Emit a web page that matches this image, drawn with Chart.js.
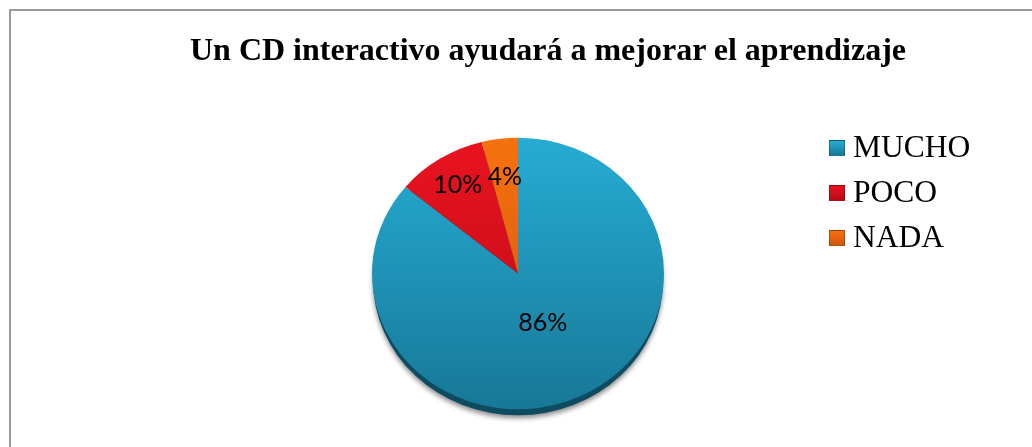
<!DOCTYPE html>
<html lang="es">
<head>
<meta charset="UTF-8">
<title>Un CD interactivo ayudará a mejorar el aprendizaje</title>
<style>
    body { margin: 0; background: #fff; overflow: hidden; }
    #wrap { position: relative; width: 1032px; height: 447px; }
    #frame {
        position: absolute; left: 9px; top: 9px; width: 1100px; height: 500px;
        border-left: 2px solid #9b9b9b; border-top: 2px solid #9b9b9b;
    }
    #chart { position: absolute; left: 0; top: 0; }
    #title {
        position: absolute; left: 548px; top: 33px; transform: translateX(-50%);
        white-space: nowrap; color: #000;
        font: bold 32px/32px "Liberation Serif", "Times New Roman", serif;
    }
    #legend { position: absolute; left: 829px; top: 124px; }
    .item { position: relative; height: 45px; }
    .box {
        position: absolute; left: 0; top: 16px; width: 16px; height: 16px;
        box-sizing: border-box; border: 1px solid rgba(0,0,0,0.25);
    }
    .text {
        position: absolute; left: 24px; top: 0; white-space: nowrap; color: #000;
        font: 31.5px/45px "Liberation Serif", "Times New Roman", serif;
    }
</style>
</head>
<body>
<div id="wrap">
    <div id="frame"></div>
    <canvas id="chart" width="1032" height="447"></canvas>
    <div id="title">Un CD interactivo ayudará a mejorar el aprendizaje</div>
    <div id="legend"></div>
</div>

<script src="https://cdn.jsdelivr.net/npm/chart.js"></script>
<script>
    // survey answers (%)
    const categories = ['MUCHO', 'POCO', 'NADA'];
    const percentages = [86, 10, 4];

    // slice shading, light at the top and darker towards the bottom
    const topColors = ['#26acd4', '#ea1320', '#f6710f'];
    const bottomColors = ['#177897', '#b80b15', '#d0560a'];
    // how far out along each slice the percentage label sits
    const labelRadius = [0.4, 0.77, 0.72];

    const squash = 0.93; // slight tilt of the pie

    function sliceFill(c) {
        const chart = c.chart;
        const a = chart.chartArea;
        if (!a) return topColors[c.dataIndex];
        const cy = (a.top + a.bottom) / 2;
        const r = chart.options.radius;
        const g = chart.ctx.createLinearGradient(0, cy - r, 0, cy + r);
        g.addColorStop(0, topColors[c.dataIndex]);
        g.addColorStop(1, bottomColors[c.dataIndex]);
        return g;
    }

    const tiltPie = {
        id: 'tiltPie',
        beforeDatasetsDraw(chart) {
            const ctx = chart.ctx;
            const arc = chart.getDatasetMeta(0).data[0];
            const cx = arc.x, cy = arc.y, r = arc.outerRadius;
            ctx.save();
            // dark edge + soft shadow under the pie
            ctx.save();
            ctx.shadowColor = 'rgba(0,0,0,0.45)';
            ctx.shadowBlur = 5;
            ctx.shadowOffsetY = 3;
            ctx.fillStyle = '#0d4b61';
            ctx.beginPath();
            ctx.ellipse(cx, cy + 7, r - 1, r * squash - 1, 0, 0, Math.PI * 2);
            ctx.fill();
            ctx.restore();
            ctx.translate(cx, cy);
            ctx.scale(1, squash);
            ctx.translate(-cx, -cy);
        },
        afterDatasetsDraw(chart) {
            const ctx = chart.ctx;
            ctx.restore();
            const meta = chart.getDatasetMeta(0);
            ctx.save();
            ctx.fillStyle = '#000';
            ctx.font = '25px Lato, "Open Sans", sans-serif';
            ctx.textAlign = 'center';
            ctx.textBaseline = 'middle';
            meta.data.forEach((arc, i) => {
                const mid = (arc.startAngle + arc.endAngle) / 2;
                const d = arc.outerRadius * labelRadius[i];
                const x = arc.x + d * Math.cos(mid);
                const y = arc.y + d * Math.sin(mid) * squash;
                ctx.fillText(percentages[i] + '%', x, y);
            });
            ctx.restore();
        }
    };

    new Chart(document.getElementById('chart'), {
        type: 'pie',
        data: {
            labels: categories,
            datasets: [{
                data: percentages,
                backgroundColor: sliceFill,
                borderWidth: 0,
                hoverOffset: 0,
                clip: false
            }]
        },
        options: {
            responsive: false,
            animation: false,
            events: [],
            radius: 146,
            layout: { padding: { left: 4, right: 0, top: 127, bottom: 27 } },
            plugins: {
                legend: { display: false },
                tooltip: { enabled: false }
            }
        },
        plugins: [tiltPie]
    });

    // legend on the right
    const legend = document.getElementById('legend');
    categories.forEach((name, i) => {
        const row = document.createElement('div');
        row.className = 'item';
        const box = document.createElement('div');
        box.className = 'box';
        box.style.background = 'linear-gradient(' + topColors[i] + ', ' + bottomColors[i] + ')';
        const text = document.createElement('div');
        text.className = 'text';
        text.textContent = name;
        row.appendChild(box);
        row.appendChild(text);
        legend.appendChild(row);
    });
</script>
</body>
</html>
